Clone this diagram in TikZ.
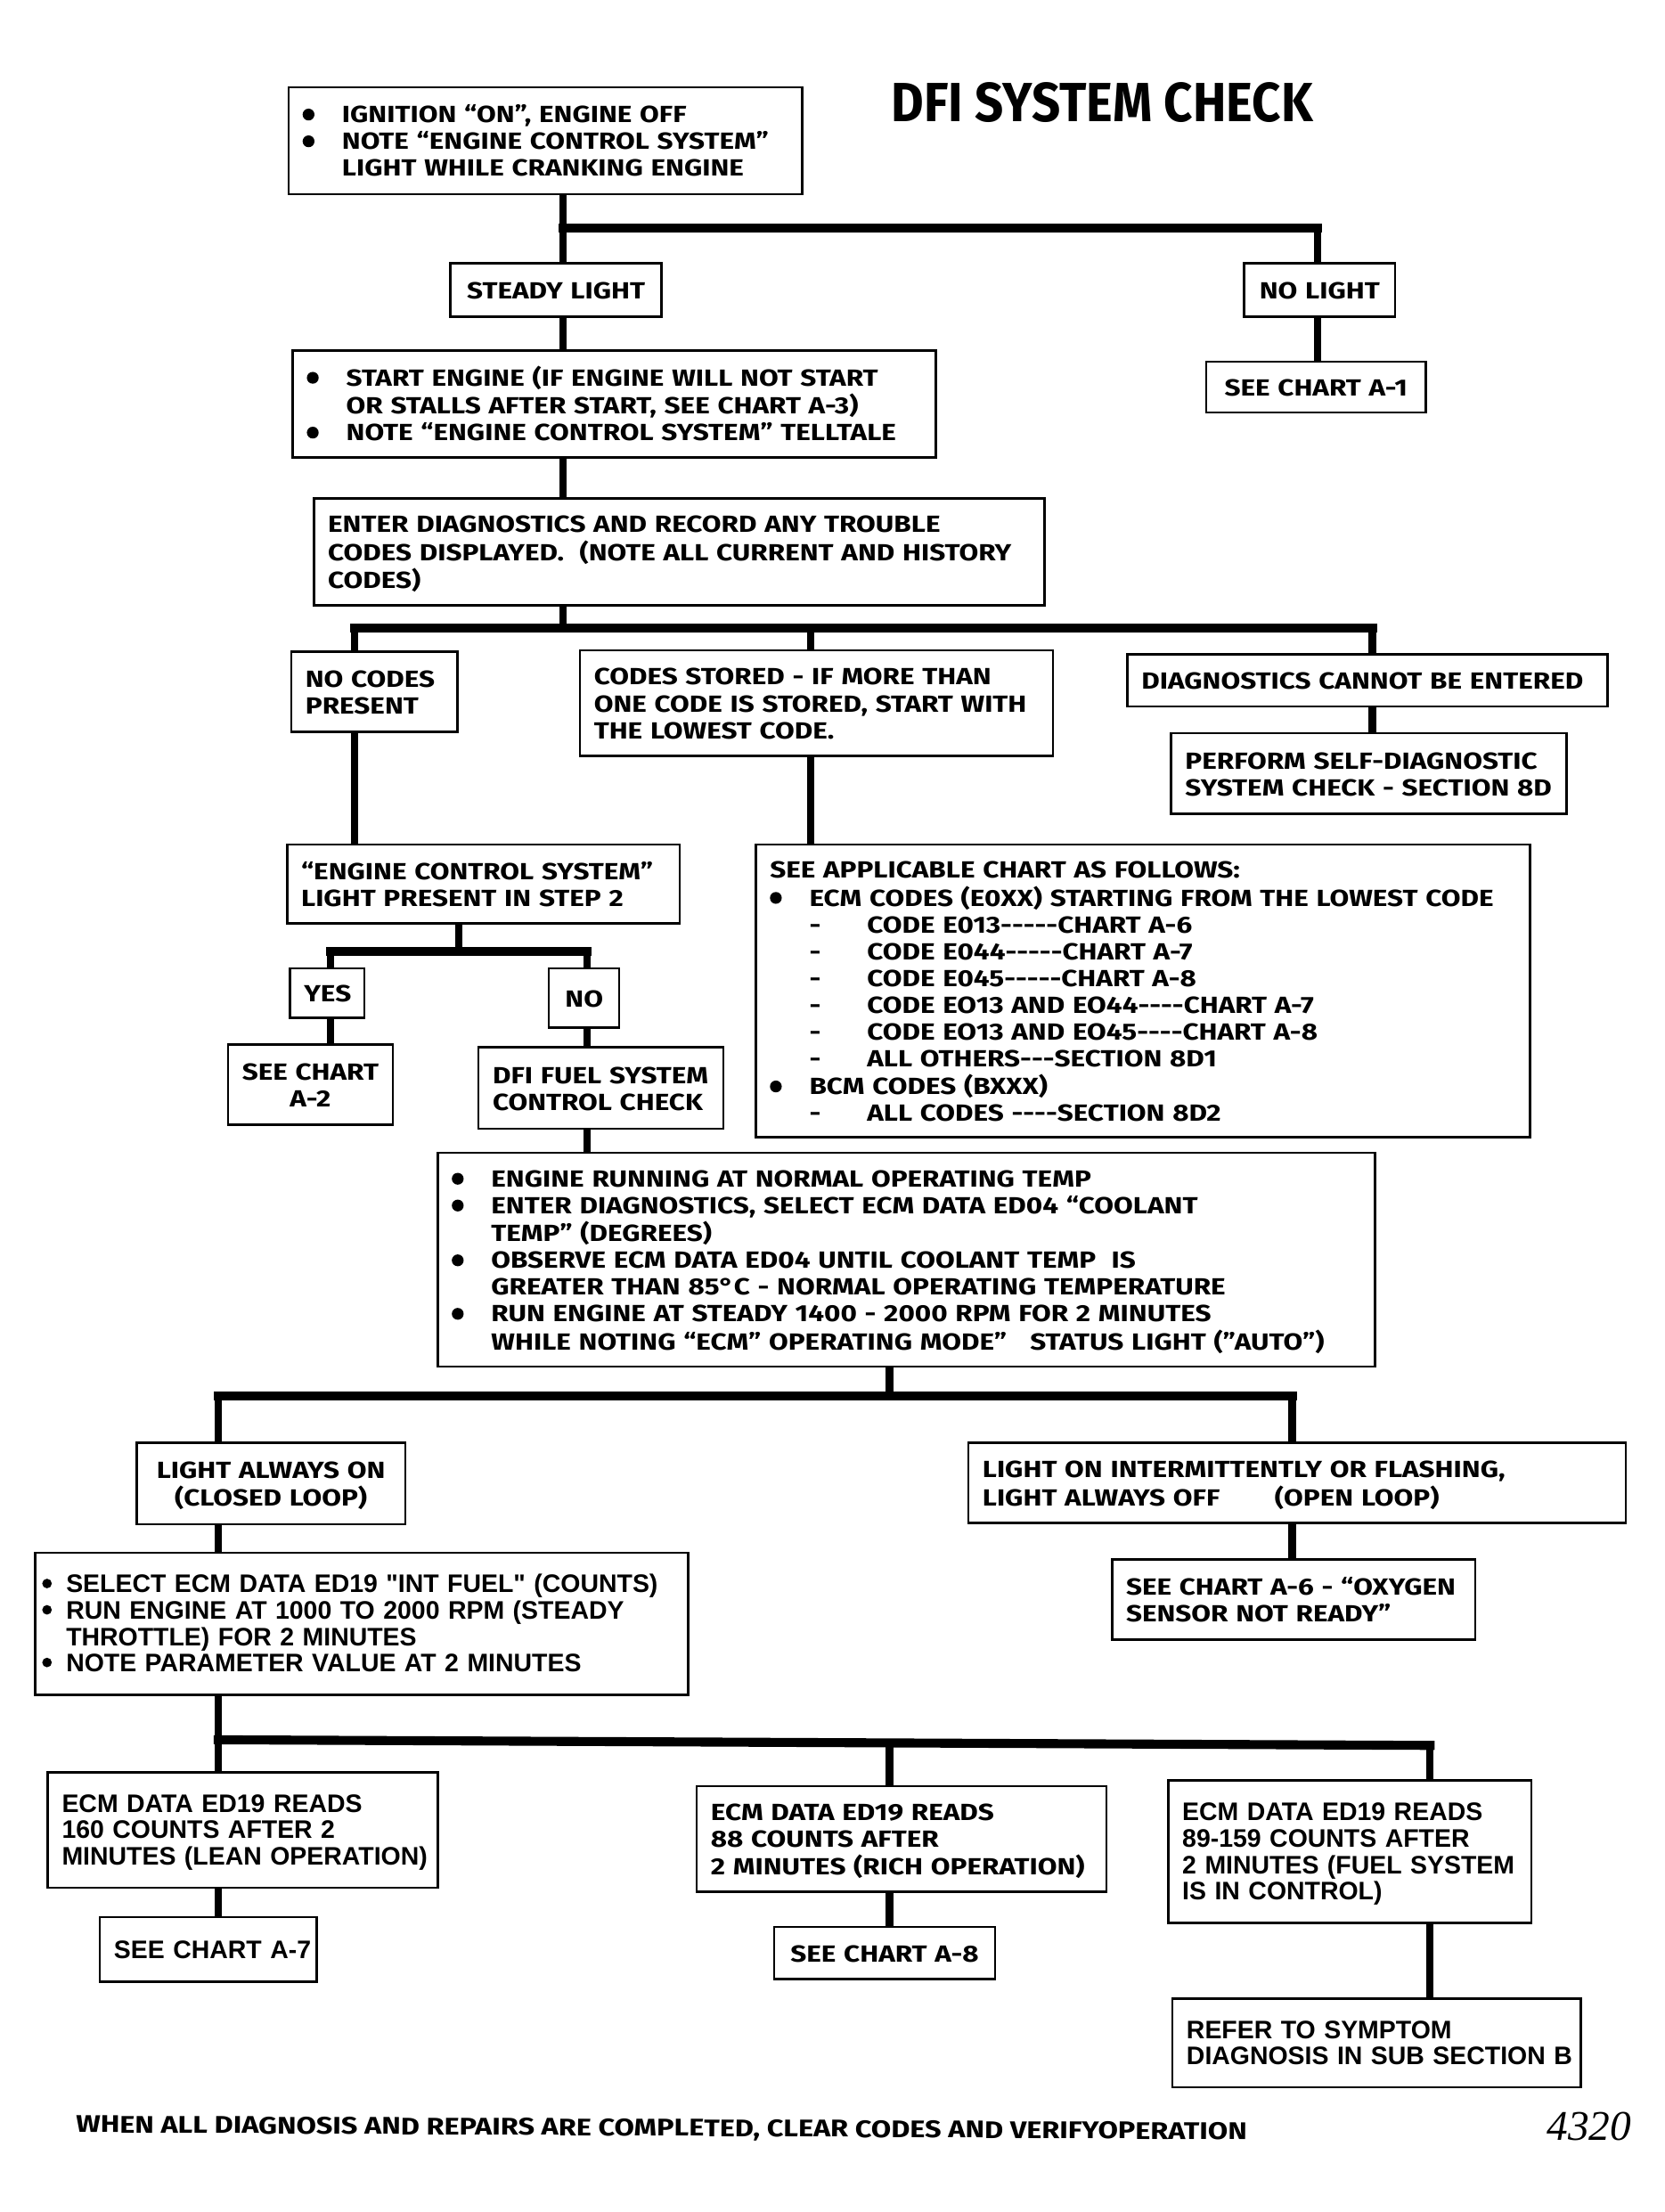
\documentclass[tikz,border=0pt]{standalone}
\usepackage{fontspec}
\usepackage{graphicx}
\setmainfont{Fira Sans}[FakeStretch=1.2]
\newfontfamily\arialf{Liberation Sans}
\newfontfamily\seriff{Liberation Serif}
\newcommand\mf{\bfseries\fontsize{8.3}{9.5}\selectfont}
\newcommand\af{\arialf\bfseries\fontsize{9}{9.35}\selectfont}
\newcommand\bul{\makebox[14pt][l]{\tikz[baseline=0pt,x=1pt,y=1pt]\fill[black] (2.1,2.9) circle[radius=2.1];}}
\newcommand\ind{\hspace*{14pt}}
\newcommand\sbul{\makebox[8.5pt][l]{\tikz[baseline=0pt,x=1pt,y=1pt]\fill[black] (1.7,3.3) circle[radius=1.7];}}
\newcommand\dl{\hspace*{14pt}\makebox[20.5pt][l]{-}}
\newcommand\hh{\mbox{-}}
\def\bxpad{5}
\newcommand\mkboxbase[8]{%
 \pgfmathsetmacro\bxw{(#6-#4)*0.5}%
 \pgfmathsetmacro\bxh{(#7-#5)*0.5}%
 \pgfmathsetmacro\bxtw{(#6-#4)*0.5-2*\bxpad}%
 \pgfmathsetmacro\bxcx{(#4+#6)/2}%
 \pgfmathsetmacro\bxcy{(#5+#7)/2}%
 \node[box,inner xsep=\bxpad pt,minimum width=\bxw pt,minimum height=\bxh pt,text width=\bxtw pt,#2] (#3) at (\bxcx,\bxcy) {\raisebox{-1.2pt}[\height][\depth]{\begin{tabular}{@{}#1@{}}#8\end{tabular}}};}
\newcommand\mkbox[7][]{\mkboxbase{l}{#1}{#2}{#3}{#4}{#5}{#6}{#7}}
\newcommand\mkcbox[7][]{\mkboxbase{c}{align=center,#1}{#2}{#3}{#4}{#5}{#6}{#7}}
\tikzset{
 box/.style={draw, line width=0.8pt, rectangle, inner ysep=0pt, align=left, font=\mf},
 conn/.style={line width=2.6pt},
 barl/.style={line width=3.2pt, line cap=rect},
}
\begin{document}
\begin{tikzpicture}[x=0.5pt,y=-0.5pt]
\useasboundingbox (0,0) rectangle (1182.3,1571.5);
\fill[white] (0,0) rectangle (1182.3,1571.5);

\node[font=\bfseries\fontsize{19.6}{20}\selectfont] (title) at (783,73) {\scalebox{0.758}[1]{DFI SYSTEM CHECK}};

\mkbox{b1}{205}{62}{570}{138}{\bul IGNITION “ON”, ENGINE OFF\\\bul NOTE “ENGINE CONTROL SYSTEM”\\\ind LIGHT WHILE CRANKING ENGINE}
\mkcbox{steady}{320}{187}{470}{225}{STEADY LIGHT}
\mkcbox{nolight}{884}{187}{991}{225}{NO LIGHT}
\mkcbox{a1}{857}{257}{1013}{293}{SEE CHART A-1}
\mkbox{b2}{208}{249}{665}{325}{\bul START ENGINE (IF ENGINE WILL NOT START\\\ind OR STALLS AFTER START, SEE CHART A-3)\\\bul NOTE “ENGINE CONTROL SYSTEM” TELLTALE}
\mkbox{b3}{223}{354}{742}{430}{ENTER DIAGNOSTICS AND RECORD ANY TROUBLE\\CODES DISPLAYED.\ \ (NOTE ALL CURRENT AND HISTORY\\CODES)}
\mkbox{nocodes}{207}{463}{325}{520}{NO CODES\\PRESENT}
\mkbox{stored}{412}{462}{748}{537}{CODES STORED - IF MORE THAN\\ONE CODE IS STORED, START WITH\\THE LOWEST CODE.}
\mkbox{cannot}{801}{465}{1142}{502}{DIAGNOSTICS CANNOT BE ENTERED}
\mkbox{perform}{832}{521}{1113}{578}{PERFORM SELF-DIAGNOSTIC\\SYSTEM CHECK - SECTION 8D}
\mkbox{ecs}{204}{600}{483}{656}{“ENGINE CONTROL SYSTEM”\\LIGHT PRESENT IN STEP 2}
\mkbox{applic}{537}{600}{1087}{808}{SEE APPLICABLE CHART AS FOLLOWS:\\
\bul ECM CODES (E0XX) STARTING FROM THE LOWEST CODE\\
\dl CODE E013\hh\hh\hh\hh\hh CHART A-6\\
\dl CODE E044\hh\hh\hh\hh\hh CHART A-7\\
\dl CODE E045\hh\hh\hh\hh\hh CHART A-8\\
\dl CODE EO13 AND EO44\hh\hh\hh\hh CHART A-7\\
\dl CODE EO13 AND EO45\hh\hh\hh\hh CHART A-8\\
\dl ALL OTHERS\hh\hh\hh SECTION 8D1\\
\bul BCM CODES (BXXX)\\
\dl ALL CODES \hh\hh\hh\hh SECTION 8D2}
\mkcbox{yes}{206}{688}{259}{723}{YES}
\mkcbox{no}{390}{688}{440}{730}{NO}
\mkcbox{a2}{162}{742}{279}{799}{SEE CHART\\A-2}
\mkbox{dfi}{340}{744}{514}{802}{DFI FUEL SYSTEM\\CONTROL CHECK}
\mkbox{big}{311}{819}{977}{971}{\bul ENGINE RUNNING AT NORMAL OPERATING TEMP\\
\bul ENTER DIAGNOSTICS, SELECT ECM DATA ED04 “COOLANT\\
\ind TEMP” (DEGREES)\\
\bul OBSERVE ECM DATA ED04 UNTIL COOLANT TEMP\ \ IS\\
\ind GREATER THAN 85°C - NORMAL OPERATING TEMPERATURE\\
\bul RUN ENGINE AT STEADY 1400 - 2000 RPM FOR 2 MINUTES\\
\ind WHILE NOTING “ECM” OPERATING MODE”\ \ \ STATUS LIGHT (”AUTO”)}
\mkcbox{always}{97}{1025}{288}{1083}{LIGHT ALWAYS ON\\(CLOSED LOOP)}
\mkbox{interm}{688}{1025}{1155}{1082}{LIGHT ON INTERMITTENTLY OR FLASHING,\\LIGHT ALWAYS OFF\hspace{19.5pt}(OPEN LOOP)}
\def\bxpad{2.5}
\mkbox[font=\af]{select}{25}{1103}{489}{1204}{\sbul SELECT ECM DATA ED19 "INT FUEL" (COUNTS)\\\sbul RUN ENGINE AT 1000 TO 2000 RPM (STEADY\\\hspace*{8.5pt}THROTTLE) FOR 2 MINUTES\\\sbul NOTE PARAMETER VALUE AT 2 MINUTES}
\def\bxpad{5}
\mkbox{a6}{790}{1108}{1048}{1165}{SEE CHART A-6 - “OXYGEN\\SENSOR NOT READY”}
\mkbox[font=\af]{lean}{34}{1259}{311}{1341}{ECM DATA ED19 READS\\160 COUNTS AFTER 2\\MINUTES (LEAN OPERATION)}
\mkbox{rich}{495}{1269}{786}{1344}{ECM DATA ED19 READS\\88 COUNTS AFTER\\2 MINUTES (RICH OPERATION)}
\mkbox[font=\af]{ctrl}{830}{1265}{1088}{1366}{ECM DATA ED19 READS\\89-159 COUNTS AFTER\\2 MINUTES (FUEL SYSTEM\\IS IN CONTROL)}
\mkcbox[font=\af]{a7}{71}{1362}{225}{1408}{SEE CHART A-7}
\mkcbox{a8}{550}{1369}{707}{1406}{SEE CHART A-8}
\mkbox[font=\af]{refer}{833}{1420}{1123}{1483}{REFER TO SYMPTOM\\DIAGNOSIS IN SUB SECTION B}

\node[font=\bfseries\fontsize{8.55}{9}\selectfont, rotate=-0.35] (foot) at (470,1513) {WHEN ALL DIAGNOSIS AND REPAIRS ARE COMPLETED, CLEAR CODES AND VERIFYOPERATION};
\node[font=\seriff\itshape\fontsize{15}{15}\selectfont] (num) at (1129,1511) {4320};

% connectors
\coordinate (c1) at (400,162); \coordinate (c1r) at (936,162);
\draw[barl] (c1) -- (c1r);
\draw[conn] (b1.south -| c1) -- (steady.north -| c1);
\draw[conn] (c1r) -- (nolight.north -| c1r);
\draw[conn] (steady.south -| c1) -- (b2.north -| c1);
\draw[conn] (nolight.south -| c1r) -- (a1.north -| c1r);
\draw[conn] (b2.south -| c1) -- (b3.north -| c1);

\coordinate (c2) at (400,446); \coordinate (c2l) at (252,446);
\coordinate (c2m) at (576,446); \coordinate (c2r) at (975,446);
\draw[barl] (c2l) -- (c2r);
\draw[conn] (b3.south -| c2) -- (c2);
\draw[conn] (c2l) -- (nocodes.north -| c2l);
\draw[conn] (c2m) -- (stored.north -| c2m);
\draw[conn] (c2r) -- (cannot.north -| c2r);
\draw[conn] (cannot.south -| c2r) -- (perform.north -| c2r);
\draw[conn] (nocodes.south -| c2l) -- (ecs.north -| c2l);
\draw[conn] (stored.south -| c2m) -- (applic.north -| c2m);

\coordinate (c3) at (326,676); \coordinate (c3l) at (235,676); \coordinate (c3r) at (417,676);
\draw[barl] (c3l) -- (c3r);
\draw[conn] (ecs.south -| c3) -- (c3);
\draw[conn] (c3l) -- (yes.north -| c3l);
\draw[conn] (c3r) -- (no.north -| c3r);
\draw[conn] (yes.south -| c3l) -- (a2.north -| c3l);
\draw[conn] (no.south -| c3r) -- (dfi.north -| c3r);
\draw[conn] (dfi.south -| c3r) -- (big.north -| c3r);

\coordinate (c4) at (632,992); \coordinate (c4l) at (155,992); \coordinate (c4r) at (918,992);
\draw[barl] (c4l) -- (c4r);
\draw[conn] (big.south -| c4) -- (c4);
\draw[conn] (c4l) -- (always.north -| c4l);
\draw[conn] (c4r) -- (interm.north -| c4r);
\draw[conn] (always.south -| c4l) -- (select.north -| c4l);
\draw[conn] (interm.south -| c4r) -- (a6.north -| c4r);

\coordinate (c5l) at (155,1236); \coordinate (c5m) at (632,1238); \coordinate (c5r) at (1016,1240);
\draw[barl] (c5l) -- (c5r);
\draw[conn] (select.south -| c5l) -- (lean.north -| c5l);
\draw[conn] (c5m) -- (rich.north -| c5m);
\draw[conn] (c5r) -- (ctrl.north -| c5r);
\draw[conn] (lean.south -| c5l) -- (a7.north -| c5l);
\draw[conn] (rich.south -| c5m) -- (a8.north -| c5m);
\draw[conn] (ctrl.south -| c5r) -- (refer.north -| c5r);
\end{tikzpicture}
\end{document}
